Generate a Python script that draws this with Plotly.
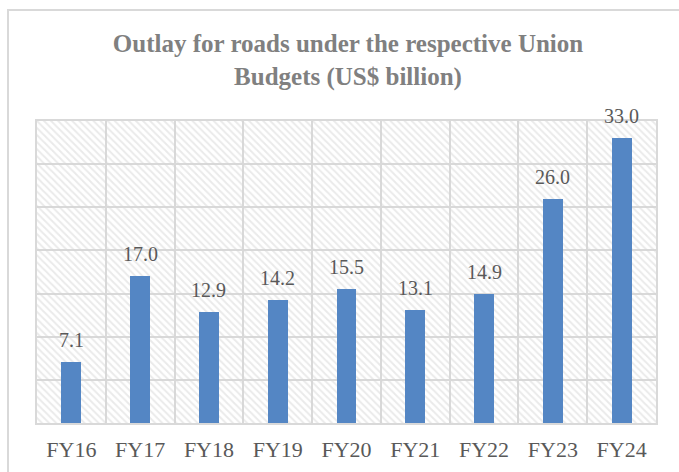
import plotly.graph_objects as go

categories = ["FY16", "FY17", "FY18", "FY19", "FY20", "FY21", "FY22", "FY23", "FY24"]
outlay = [7.1, 17.0, 12.9, 14.2, 15.5, 13.1, 14.9, 26.0, 33.0]
y_max = 35

W, H = 679, 472
L, R, T, B = 37, 23, 121, 49
pw, ph = W - L - R, H - T - B

text_col = "#595959"
grid_col = "#d9d9d9"
font_family = "Liberation Serif, Times New Roman, serif"

fig = go.Figure()

# hatched background of the plot area
fig.add_trace(go.Bar(
    x=categories, y=[y_max] * len(categories), width=1,
    marker=dict(color="rgba(0,0,0,0)", line=dict(width=0),
                pattern=dict(shape="\\", fgcolor="#d6d6d6", bgcolor="rgba(0,0,0,0)",
                             size=5, solidity=0.4, fillmode="overlay")),
    hoverinfo="skip", showlegend=False,
))

fig.add_trace(go.Bar(
    x=categories, y=outlay, width=0.29,
    marker=dict(color="#5486c4", line=dict(width=0)),
    showlegend=False,
))

for c, v in zip(categories, outlay):
    fig.add_annotation(x=c, y=v, text=f"{v:.1f}", showarrow=False,
                       yanchor="bottom", yshift=9,
                       font=dict(family=font_family, size=20, color=text_col))

# outer chart frame
fig.add_shape(type="rect", xref="paper", yref="paper",
              x0=(8 - L) / pw, x1=(W + 40 - L) / pw,
              y0=-(B + 40) / ph, y1=(H - B - 10) / ph,
              line=dict(color=grid_col, width=2), fillcolor="rgba(0,0,0,0)",
              layer="below")

fig.update_layout(
    width=W, height=H,
    margin=dict(l=L, r=R, t=T, b=B, autoexpand=False),
    paper_bgcolor="white", plot_bgcolor="white",
    barmode="overlay", bargap=0,
    title=dict(text="<b>Outlay for roads under the respective Union<br>Budgets (US$ billion)</b>",
               x=348 / W, xanchor="center", y=1 - 52 / H, yanchor="middle",
               yref="container", xref="container",
               font=dict(family=font_family, size=25, color="#808080")),
    font=dict(family=font_family, color=text_col),
)

fig.update_xaxes(type="category", tickson="boundaries", showgrid=True,
                 gridcolor=grid_col, gridwidth=1.5, ticks="", automargin=False,
                 showline=True, linecolor=grid_col, linewidth=1.5, mirror=True,
                 ticklabelstandoff=6,
                 tickfont=dict(family=font_family, size=22, color=text_col))
fig.update_yaxes(range=[0, y_max], dtick=5, showgrid=True, gridcolor=grid_col,
                 gridwidth=1.5, showticklabels=False, ticks="", zeroline=False,
                 automargin=False,
                 showline=True, linecolor=grid_col, linewidth=1.5, mirror=True)

fig.write_html("out.html", config={"displayModeBar": False},
               post_script="document.body.style.margin='0';document.body.style.overflow='hidden';")
